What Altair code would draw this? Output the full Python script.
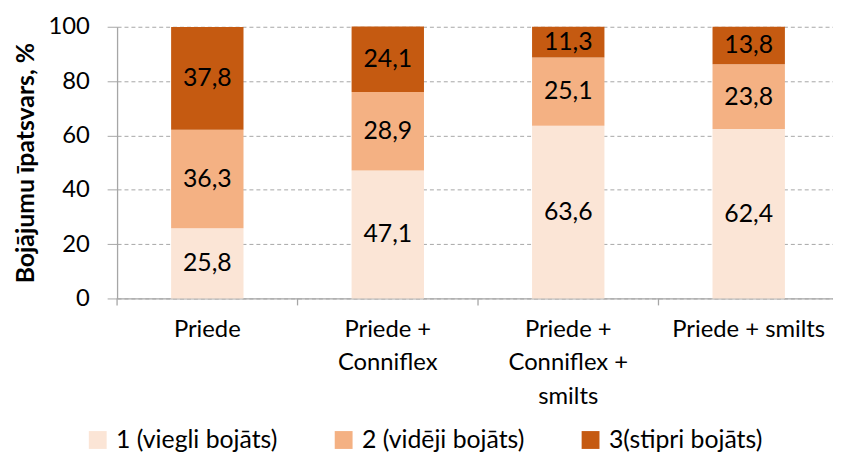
import altair as alt
import pandas as pd

categories = ["Priede", "Priede +\nConniflex", "Priede +\nConniflex +\nsmilts", "Priede + smilts"]
series = ["1 (viegli bojāts)", "2 (vidēji bojāts)", "3(stipri bojāts)"]
light = [25.8, 47.1, 63.6, 62.4]
medium = [36.3, 28.9, 25.1, 23.8]
heavy = [37.8, 24.1, 11.3, 13.8]
colors = ["#FBE5D6", "#F4B183", "#C55A11"]

rows = []
for vals, s_i in ((light, 0), (medium, 1), (heavy, 2)):
    for c, v in zip(categories, vals):
        rows.append({"cat": c, "series": series[s_i], "order": s_i, "value": v})
df = pd.DataFrame(rows)

FONT = "Lato"
GRAY = "#A6A6A6"

xscale = alt.Scale(range=[0, 728], paddingInner=0, paddingOuter=0)

xenc = alt.X("cat:N", sort=categories, title=None, scale=xscale,
             axis=alt.Axis(labelAngle=0, labelExpr="split(datum.label, '\\n')",
                           labelFontSize=24, labelFont=FONT, labelColor="#000000",
                           labelPadding=31, labelLineHeight=34, ticks=False,
                           domainColor=GRAY, domainWidth=1.3, labelBaseline="middle"))

base = alt.Chart(df)

bars = base.mark_bar(size=73).encode(
    x=xenc,
    y=alt.Y("value:Q", stack="zero", title="Bojājumu īpatsvars, %",
            scale=alt.Scale(domain=[0, 100]),
            axis=alt.Axis(values=[0, 20, 40, 60, 80, 100], labelFontSize=24, labelFont=FONT,
                          labelColor="#000000", titleFontSize=25, titleFont=FONT,
                          titleFontWeight="bold", titleColor="#000000", titlePadding=10,
                          tickSize=10, tickColor=GRAY, domainColor=GRAY, domainWidth=1.3,
                          gridColor=GRAY, gridDash=[4, 3], gridWidth=1,
                          labelPadding=18)),
    color=alt.Color("series:N", sort=series, scale=alt.Scale(domain=series, range=colors),
                    legend=alt.Legend(title=None, orient="none", direction="horizontal",
                                      legendX=-32, legendY=404, labelFontSize=25,
                                      labelFont=FONT, labelColor="#000000", labelLimit=0,
                                      symbolType="square", symbolSize=324,
                                      symbolStrokeWidth=0, columnPadding=54,
                                      labelOffset=6)),
    order=alt.Order("order:Q"),
)

labels = base.transform_stack(
    stack="value", groupby=["cat"], as_=["y0", "y1"], sort=[alt.SortField("order")]
).transform_calculate(
    mid="(datum.y0 + datum.y1) / 2",
    txt="replace(format(datum.value, '.1f'), '.', ',')",
).mark_text(fontSize=25, font=FONT, color="#000000").encode(
    x=alt.X("cat:N", sort=categories, scale=xscale),
    y=alt.Y("mid:Q"),
    text="txt:N",
)

tick_df = pd.DataFrame({"cat": categories})
ticks = alt.Chart(tick_df).mark_rule(color=GRAY, strokeWidth=1.3).encode(
    x=alt.X("cat:N", sort=categories, bandPosition=0, scale=xscale),
    y=alt.value(274),
    y2=alt.value(281),
)

chart = alt.layer(bars, labels, ticks).properties(
    width=722, height=274,
    autosize=alt.AutoSizeParams(type="none"),
    padding={"left": 110, "top": 17, "right": 0, "bottom": 161},
).configure_view(stroke=None).configure_axis(grid=False).configure_axisY(grid=True)

chart.save("out.html", embed_options={"renderer": "svg", "actions": False})
